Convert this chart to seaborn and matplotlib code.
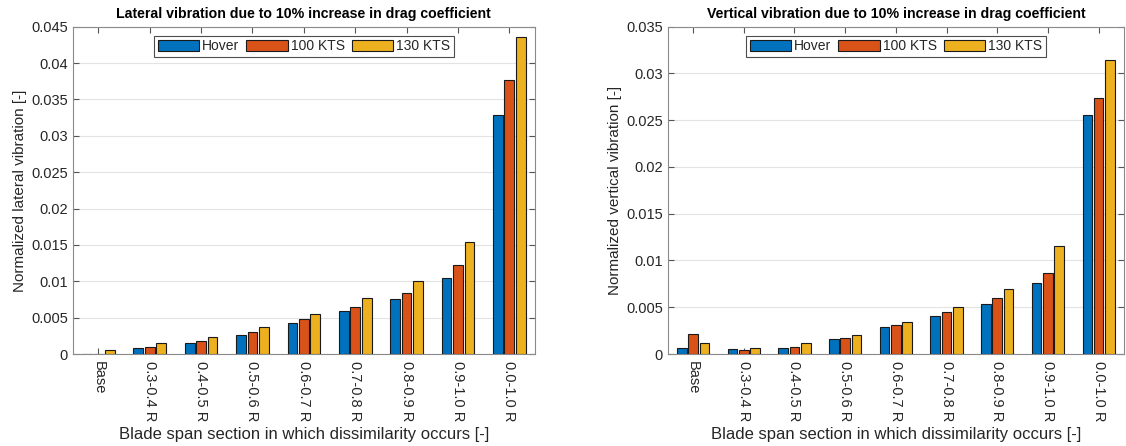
import numpy as np
import pandas as pd
import matplotlib
matplotlib.use("Agg")
import matplotlib.pyplot as plt
from matplotlib.ticker import MultipleLocator, FuncFormatter
import seaborn as sns

sections = ["Base", "0.3-0.4 R", "0.4-0.5 R", "0.5-0.6 R", "0.6-0.7 R",
            "0.7-0.8 R", "0.8-0.9 R", "0.9-1.0 R", "0.0-1.0 R"]
conditions = ["Hover", "100 KTS", "130 KTS"]

lateral_hover = [0.00005, 0.00078, 0.00155, 0.00266, 0.0043, 0.0059, 0.0075, 0.0104, 0.0329]
lateral_100 = [0.00002, 0.00092, 0.00175, 0.0030, 0.00477, 0.00645, 0.00835, 0.01225, 0.0377]
lateral_130 = [0.0006, 0.00155, 0.0024, 0.00367, 0.00555, 0.00775, 0.01005, 0.01546, 0.0436]

vertical_hover = [0.00064, 0.0005, 0.00064, 0.0016, 0.00288, 0.00407, 0.00532, 0.00763, 0.0256]
vertical_100 = [0.00214, 0.00043, 0.00078, 0.0017, 0.0031, 0.0045, 0.00596, 0.00863, 0.0274]
vertical_130 = [0.00114, 0.00064, 0.00114, 0.0020, 0.0034, 0.00503, 0.00692, 0.0116, 0.0314]

colors = ["#0072BD", "#D95319", "#EDB120"]


def long_frame(hover, kts100, kts130):
    rows = []
    for cond, vals in zip(conditions, [hover, kts100, kts130]):
        for sec, v in zip(sections, vals):
            rows.append({"section": sec, "condition": cond, "value": v})
    return pd.DataFrame(rows)


sns.set_theme(style="white")
plt.rcParams["font.family"] = ["Liberation Sans", "DejaVu Sans"]
plt.rcParams["axes.edgecolor"] = "#8a8a8a"
plt.rcParams["axes.linewidth"] = 0.8

fig = plt.figure(figsize=(11.26, 4.46), dpi=100)
W, H = 1126, 446
ax1 = fig.add_axes([72.7 / W, (H - 354) / H, (535 - 72.7) / W, (354 - 26.7) / H])
ax2 = fig.add_axes([667.7 / W, (H - 354) / H, (1124 - 667.7) / W, (354 - 26.7) / H])

panels = [
    (ax1, long_frame(lateral_hover, lateral_100, lateral_130), 0.045,
     "Lateral vibration due to 10% increase in drag coefficient",
     "Normalized lateral vibration [-]"),
    (ax2, long_frame(vertical_hover, vertical_100, vertical_130), 0.035,
     "Vertical vibration due to 10% increase in drag coefficient",
     "Normalized vertical vibration [-]"),
]

text_color = "#262626"

for ax, df, ymax, title, ylabel in panels:
    sns.barplot(data=df, x="section", y="value", hue="condition",
                hue_order=conditions, order=sections, palette=colors,
                width=0.67, gap=0.15, edgecolor="#1a1a1a", linewidth=0.8,
                saturation=1, errorbar=None, ax=ax, zorder=3)
    ax.set_xlim(-0.5, len(sections) - 0.5)
    ax.set_ylim(0, ymax)
    ax.yaxis.set_major_locator(MultipleLocator(0.005))
    ax.yaxis.set_major_formatter(FuncFormatter(lambda v, p: "%g" % round(v, 4)))
    ax.grid(axis="y", color="#e3e3e3", linewidth=0.8, zorder=0)
    ax.set_axisbelow(True)
    ax.tick_params(axis="both", which="major", direction="in", length=4,
                   width=0.8, color="#555555", labelsize=10.5, labelcolor=text_color,
                   top=True, right=True, bottom=True, left=True)
    ax.tick_params(axis="x", pad=5)
    ax.set_xticks(range(len(sections)))
    ax.set_xticklabels(sections, rotation=-90, va="top", ha="center")
    ax.set_title(title, fontsize=10.2, fontweight="bold", color="black", pad=6)
    ax.set_ylabel(ylabel, fontsize=11, color=text_color, labelpad=3)
    ax.set_xlabel("Blade span section in which dissimilarity occurs [-]",
                  fontsize=12, color=text_color, labelpad=4)
    for s in ax.spines.values():
        s.set_visible(True)
        s.set_color("#8a8a8a")
        s.set_linewidth(0.8)
    handles, labels = ax.get_legend_handles_labels()
    if ax.get_legend() is not None:
        ax.get_legend().remove()
    leg = ax.legend(handles, labels, loc="upper center", bbox_to_anchor=(0.5, 0.972),
                    ncol=3, fontsize=10, frameon=True, fancybox=False,
                    edgecolor="#4d4d4d", framealpha=1, handlelength=3.0,
                    handleheight=0.75, handletextpad=0.2, columnspacing=0.5,
                    borderpad=0.25, borderaxespad=0.0)
    leg.get_frame().set_linewidth(0.8)
    for t in leg.get_texts():
        t.set_color(text_color)

fig.savefig("out.png", dpi=100)
